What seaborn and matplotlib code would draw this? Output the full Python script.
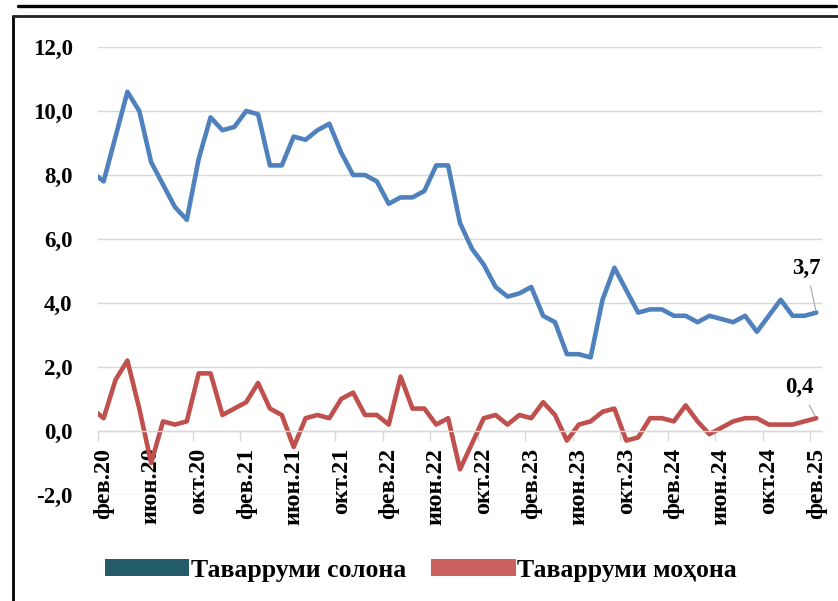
import numpy as np
import pandas as pd
import seaborn as sns
import matplotlib.pyplot as plt
from matplotlib.patches import Patch
from matplotlib.lines import Line2D

# monthly data, Jan 2020 .. Feb 2025 (Jan 2020 sits left of the axis and gets clipped)
months = pd.date_range('2020-01-01', '2025-02-01', freq='MS')

solona = [8.1,
          7.8, 9.2, 10.6, 10.0, 8.4, 7.7, 7.0, 6.6, 8.5, 9.8, 9.4, 9.5,
          10.0, 9.9, 8.3, 8.3, 9.2, 9.1, 9.4, 9.6, 8.7, 8.0, 8.0, 7.8,
          7.1, 7.3, 7.3, 7.5, 8.3, 8.3, 6.5, 5.7, 5.2, 4.5, 4.2, 4.3,
          4.5, 3.6, 3.4, 2.4, 2.4, 2.3, 4.1, 5.1, 4.4, 3.7, 3.8, 3.8,
          3.6, 3.6, 3.4, 3.6, 3.5, 3.4, 3.6, 3.1, 3.6, 4.1, 3.6, 3.6,
          3.7]
mohona = [0.7,
          0.4, 1.6, 2.2, 0.7, -1.0, 0.3, 0.2, 0.3, 1.8, 1.8, 0.5, 0.7,
          0.9, 1.5, 0.7, 0.5, -0.5, 0.4, 0.5, 0.4, 1.0, 1.2, 0.5, 0.5,
          0.2, 1.7, 0.7, 0.7, 0.2, 0.4, -1.2, -0.4, 0.4, 0.5, 0.2, 0.5,
          0.4, 0.9, 0.5, -0.3, 0.2, 0.3, 0.6, 0.7, -0.3, -0.2, 0.4, 0.4,
          0.3, 0.8, 0.3, -0.1, 0.1, 0.3, 0.4, 0.4, 0.2, 0.2, 0.2, 0.3,
          0.4]

tick_labels = ['фев.20', 'июн.20', 'окт.20', 'фев.21', 'июн.21', 'окт.21',
               'фев.22', 'июн.22', 'окт.22', 'фев.23', 'июн.23', 'окт.23',
               'фев.24', 'июн.24', 'окт.24', 'фев.25']
series_names = ['Таварруми солона', 'Таварруми моҳона']
line_colors = ['#4F81BD', '#C0504D']
legend_colors = ['#235B6A', '#CB625F']

idx = np.arange(len(months)) - 1
df = pd.DataFrame({
    'idx': np.concatenate([idx, idx]),
    'value': solona + mohona,
    'series': [series_names[0]] * len(idx) + [series_names[1]] * len(idx),
})

sns.set_theme(style='white')
plt.rcParams['font.family'] = ['Liberation Serif', 'DejaVu Serif']
plt.rcParams['font.weight'] = 'bold'
plt.rcParams['text.color'] = 'black'

fig = plt.figure(figsize=(8.38, 6.01), dpi=100)
ax = fig.add_axes([0.1166, 0.1764, 0.8639, 0.7454])
sns.lineplot(data=df, x='idx', y='value', hue='series', palette=line_colors,
             linewidth=3.3, legend=False, ax=ax)
for ln in ax.lines:
    ln.set_solid_joinstyle('round')

ax.set_xlim(-0.5, 60.45)
ax.set_ylim(-2, 12)
ax.set_xlabel('')
ax.set_ylabel('')

yt = np.arange(-2, 13, 2)
ax.set_yticks(yt)
ax.set_yticklabels([f'{v:.1f}'.replace('.', ',') for v in yt], fontsize=16.5)
ax.tick_params(axis='y', length=0, pad=18, labelcolor='black')
ax.yaxis.grid(True, color='#D9D9D9', lw=1.0)
ax.xaxis.grid(False)
ax.set_axisbelow(True)

for s in ['left', 'right', 'top']:
    ax.spines[s].set_visible(False)
ax.spines['bottom'].set_position(('data', 0))
ax.spines['bottom'].set_color('#D9D9D9')
ax.spines['bottom'].set_linewidth(1.0)

ax.set_xticks(np.arange(0, 61, 4))
ax.set_xticklabels(tick_labels, rotation=90, fontsize=17.5)
ax.set_xticks(np.arange(-0.5, 60, 4), minor=True)
ax.tick_params(axis='x', which='major', length=0, pad=12, labelcolor='black')
ax.tick_params(axis='x', which='minor', length=7, width=1, color='#D9D9D9',
               direction='out', bottom=True)

# data labels on the last points
ax.annotate('3,7', xy=(60, solona[-1]), xytext=(-7, 32), textcoords='offset points',
            ha='center', va='center', fontsize=16.5,
            arrowprops=dict(arrowstyle='-', color='#A6A6A6', lw=0.8, shrinkA=3, shrinkB=2))
ax.annotate('0,4', xy=(60, mohona[-1]), xytext=(-12, 22), textcoords='offset points',
            ha='center', va='center', fontsize=16.5,
            arrowprops=dict(arrowstyle='-', color='#A6A6A6', lw=0.8, shrinkA=3, shrinkB=2))

handles = [Patch(facecolor=c, edgecolor='none') for c in legend_colors]
fig.legend(handles, series_names, loc='center', bbox_to_anchor=(0.502, 1 - 570 / 601),
           ncol=2, frameon=False, fontsize=18.5, handlelength=3.3, handleheight=0.62,
           handletextpad=0.05, columnspacing=0.97)

# outer frame of the original figure
fig.add_artist(Line2D([13 / 838, 13 / 838], [0, 1 - 16 / 601], color='black', lw=2,
                      transform=fig.transFigure))
fig.add_artist(Line2D([13 / 838, 1], [1 - 16 / 601] * 2, color='#222222', lw=2,
                      transform=fig.transFigure))
fig.add_artist(Line2D([18 / 838, 836 / 838], [1 - 6 / 601] * 2, color='black', lw=2.4,
                      transform=fig.transFigure))

fig.savefig('out.png', dpi=100)
